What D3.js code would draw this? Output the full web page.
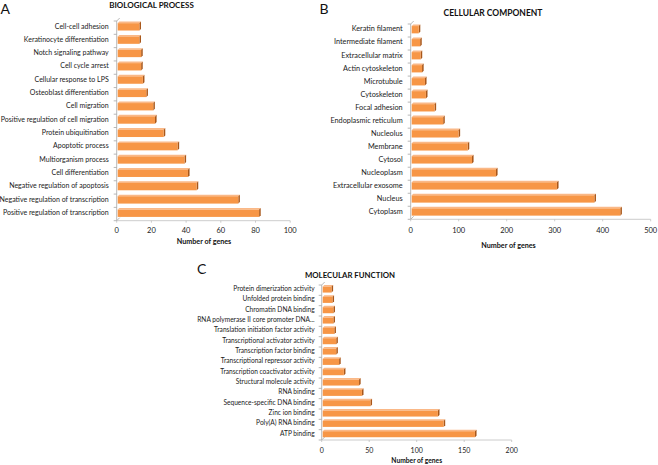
<!DOCTYPE html>
<html><head><meta charset="utf-8">
<script src="https://cdn.jsdelivr.net/npm/d3@7"></script>
<style>body{margin:0;background:#fff}svg{display:block}text{font-family:Lato,"Open Sans",sans-serif}</style>
</head><body>
<svg id="c" width="658" height="465"></svg>
<script>
// Panel A: Biological process (top to bottom)
const bpCategories = ["Cell-cell adhesion","Keratinocyte differentiation","Notch signaling pathway","Cell cycle arrest","Cellular response to LPS","Osteoblast differentiation","Cell migration","Positive regulation of cell migration","Protein ubiquitination","Apoptotic process","Multiorganism process","Cell differentiation","Negative regulation of apoptosis","Negative regulation of transcription","Positive regulation of transcription"];
const bpValues = [14,14,15,15,16,18,22,23,28,36,40,42,47,71,83];
const bpTicks = [0,20,40,60,80,100];

// Panel B: Cellular component
const ccCategories = ["Keratin filament","Intermediate filament","Extracellular matrix","Actin cytoskeleton","Microtubule","Cytoskeleton","Focal adhesion","Endoplasmic reticulum","Nucleolus","Membrane","Cytosol","Nucleoplasm","Extracellular exosome","Nucleus","Cytoplasm"];
const ccValues = [20,23,24,27,33,35,53,71,103,122,131,181,308,386,440];
const ccTicks = [0,100,200,300,400,500];

// Panel C: Molecular function
const mfCategories = ["Protein dimerization activity","Unfolded protein binding","Chromatin DNA binding","RNA polymerase II core promoter DNA...","Translation initiation factor activity","Transcriptional activator activity","Transcription factor binding","Transcriptional repressor activity","Transcription coactivator activity","Structural molecule activity","RNA binding","Sequence-specific DNA binding","Zinc ion binding","Poly(A) RNA binding","ATP binding"];
const mfValues = [12,13,14,14,15,17,17,20,25,41,44,53,124,130,163];
const mfTicks = [0,50,100,150,200];

const svg = d3.select("#c");
const front = "#F79646", topC = "#FAB887", side = "#A8571A";

function panel(o){
  const g = svg.append("g");
  const x = d3.scaleLinear().domain([0, o.ticks[o.ticks.length-1]]).range([o.x0, o.x1]);
  const y = d3.scaleBand().domain(o.cats).range([o.yTop, o.yBot]).paddingInner(0).paddingOuter(0);
  const bw = y.bandwidth();
  const h = bw*o.barFrac, d = 1.6;
  g.append("line").attr("x1",o.x0).attr("x2",o.x0).attr("y1",o.yTop).attr("y2",o.yBot).attr("stroke","#a6a6a6").attr("stroke-width",0.8);
  g.append("line").attr("x1",o.x0).attr("x2",o.x0+3).attr("y1",o.yTop).attr("y2",o.yTop-3).attr("stroke","#a6a6a6").attr("stroke-width",0.8);
  g.append("line").attr("x1",o.x0).attr("x2",o.x0+3).attr("y1",o.yBot).attr("y2",o.yBot-3).attr("stroke","#a6a6a6").attr("stroke-width",0.8);
  g.append("line").attr("x1",o.x0).attr("x2",o.x1).attr("y1",o.yBot).attr("y2",o.yBot).attr("stroke","#bfbfbf").attr("stroke-width",0.8);
  const edges = o.cats.map(c=>y(c)).concat([o.yBot]);
  g.selectAll(".yt").data(edges).join("line").attr("x1",o.x0-3).attr("x2",o.x0).attr("y1",v=>v).attr("y2",v=>v).attr("stroke","#a6a6a6").attr("stroke-width",0.8);
  g.selectAll(".xt").data(o.ticks).join("line").attr("x1",v=>x(v)).attr("x2",v=>x(v)).attr("y1",o.yBot).attr("y2",o.yBot+2).attr("stroke","#bfbfbf").attr("stroke-width",0.8);
  g.selectAll(".xl").data(o.ticks).join("text").attr("x",v=>x(v)).attr("y",o.yBot+o.tickDy).attr("text-anchor","middle").attr("font-size",o.tickFs).attr("fill","#1a1a1a").text(v=>v);
  g.append("text").attr("x",o.axTitleX).attr("y",o.axTitleY).attr("text-anchor","middle").attr("font-size",o.tickFs-0.3).attr("font-weight","bold").attr("fill","#111").text("Number of genes");
  g.selectAll(".cl").data(o.cats).join("text").attr("x",o.x0-o.labGap).attr("y",c=>y(c)+bw/2-o.shift).attr("dy","0.35em").attr("text-anchor","end").attr("font-size",o.labFs).attr("fill","#1a1a1a").text(c=>c);
  const bars = g.selectAll(".b").data(o.cats.map((c,i)=>({c,v:o.vals[i]}))).join("g");
  bars.each(function(dd){
    const gg = d3.select(this);
    const yc = y(dd.c)+bw/2 - o.shift + d/2;
    const yt = yc - h/2, yb = yc + h/2;
    const xa = x(0)+1, xb = x(dd.v)-d;
    gg.append("polygon").attr("points",[[xa,yt],[xa+d,yt-d],[xb+d,yt-d],[xb,yt]].join(" ")).attr("fill",topC);
    gg.append("polygon").attr("points",[[xb,yt],[xb+d,yt-d],[xb+d,yb-d],[xb,yb]].join(" ")).attr("fill",side);
    gg.append("rect").attr("x",xa).attr("y",yt).attr("width",xb-xa).attr("height",h).attr("fill",front);
  });
  svg.append("text").attr("x",o.titleX).attr("y",o.titleY).attr("text-anchor","middle").attr("font-size",o.titleFs).attr("font-weight","bold").attr("fill","#111").text(o.title);
  svg.append("text").attr("x",o.letterX).attr("y",o.letterY).attr("font-size",14).attr("font-family","Liberation Sans, Arial, sans-serif").attr("fill","#111").text(o.letter);
}

panel({cats:bpCategories, vals:bpValues, ticks:bpTicks, x0:116.7, x1:290.2, yTop:21, yBot:220.7, barFrac:0.55, shift:1.6, labGap:8, labFs:7, tickFs:7.5, tickDy:12.5, axTitleX:204, axTitleY:243.5, title:"BIOLOGICAL PROCESS", titleX:151.5, titleY:8, titleFs:8, letter:"A", letterX:0.5, letterY:14});
panel({cats:ccCategories, vals:ccValues, ticks:ccTicks, x0:410.7, x1:650.7, yTop:24, yBot:219.3, barFrac:0.56, shift:1.6, labGap:8, labFs:7.3, tickFs:7.5, tickDy:13.5, axTitleX:508.5, axTitleY:248, title:"CELLULAR COMPONENT", titleX:493, titleY:15.5, titleFs:8.5, letter:"B", letterX:319.5, letterY:14});
panel({cats:mfCategories, vals:mfValues, ticks:mfTicks, x0:321.7, x1:511.7, yTop:285, yBot:440, barFrac:0.58, shift:1.4, labGap:7, labFs:6.6, tickFs:7, tickDy:12.5, axTitleX:416.7, axTitleY:463, title:"MOLECULAR FUNCTION", titleX:350, titleY:277.5, titleFs:7.8, letter:"C", letterX:197, letterY:274});
</script>
</body></html>
